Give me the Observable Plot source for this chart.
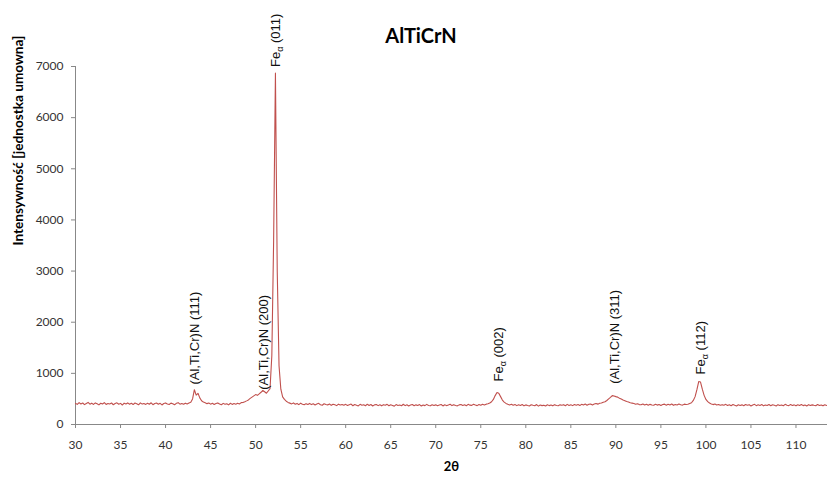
<!DOCTYPE html>
<html><head><meta charset="utf-8">
<script src="https://cdn.jsdelivr.net/npm/d3@7"></script>
<script src="https://cdn.jsdelivr.net/npm/@observablehq/plot@0.6"></script>
<style>
body{margin:0;background:#fff;}
#wrap{position:relative;width:827px;height:477px;overflow:hidden;}
#title{position:absolute;left:0;top:23px;width:842px;text-align:center;font:bold 20px/24px Lato, sans-serif;color:#000;}
</style></head>
<body><div id="wrap"><div id="title">AlTiCrN</div></div>
<script>
// XRD scan: start angle and step (degrees 2θ)
const scanStart = 30.0;
const scanStep = 0.2;
// Intensity, one value per step
const intensity = [
  412, 394, 428, 402, 420, 388, 412, 432, 398, 417,   // 30
  392, 422, 406, 384, 416, 400, 428, 392, 412, 402,   // 32
  420, 386, 409, 424, 395, 413, 381, 417, 400, 422,   // 34
  397, 414, 390, 420, 404, 385, 423, 399, 412, 393,   // 36
  416, 397, 425, 387, 410, 419, 396, 414, 382, 411,   // 38
  422, 400, 392, 418, 406, 386, 414, 427, 398, 412,   // 40
  395, 417, 402, 422, 435, 500, 680, 575, 610, 520,   // 42
  465, 438, 425, 408, 420, 398, 414, 392, 410, 422,   // 44
  400, 386, 413, 395, 407, 384, 416, 393, 411, 398,   // 46
  414, 402, 427, 430, 445, 462, 480, 510, 535, 560,   // 48
  585, 570, 600, 630, 665, 640, 612, 655, 700, 1350,  // 50
  3600, 6870, 3000, 1150, 690, 540, 490, 455, 432, 418, // 52
  403, 422, 395, 412, 389, 417, 398, 385, 408, 392,   // 54
  412, 389, 404, 382, 400, 414, 387, 377, 406, 390,   // 56
  383, 402, 375, 397, 386, 369, 398, 381, 392, 375,   // 58
  394, 372, 387, 400, 367, 390, 377, 363, 394, 375,   // 60
  386, 367, 397, 373, 390, 362, 384, 392, 369, 387,   // 62
  365, 388, 375, 394, 367, 385, 372, 359, 390, 373,   // 64
  382, 367, 396, 369, 387, 363, 380, 392, 368, 384,   // 66
  372, 390, 361, 382, 369, 394, 373, 365, 387, 371,   // 68
  384, 367, 380, 392, 363, 386, 369, 382, 397, 370,   // 70
  388, 371, 365, 384, 392, 373, 386, 367, 394, 378,   // 72
  374, 397, 380, 369, 391, 377, 396, 382, 398, 405,   // 74
  420, 445, 490, 565, 625, 610, 545, 478, 438, 412,   // 76
  396, 382, 394, 375, 390, 369, 386, 373, 392, 365,   // 78
  384, 371, 363, 387, 375, 367, 390, 359, 382, 369,   // 80
  378, 362, 386, 369, 382, 365, 388, 371, 367, 384,   // 82
  375, 388, 367, 394, 373, 386, 369, 392, 377, 390,   // 84
  373, 394, 381, 400, 377, 396, 402, 383, 400, 410,   // 86
  398, 415, 420, 436, 445, 470, 500, 530, 565, 558,   // 88
  545, 535, 515, 498, 478, 465, 448, 440, 425, 418,   // 90
  410, 395, 407, 389, 385, 402, 381, 397, 377, 394,   // 92
  383, 375, 396, 379, 392, 372, 390, 398, 377, 394,   // 94
  381, 400, 375, 392, 382, 402, 385, 379, 398, 390,   // 96
  395, 410, 425, 470, 545, 680, 840, 830, 690, 570,   // 98
  490, 448, 420, 403, 389, 400, 381, 392, 375, 388,   // 100
  377, 394, 371, 387, 367, 390, 375, 363, 386, 372,   // 102
  384, 367, 392, 375, 388, 361, 382, 394, 369, 385,   // 104
  373, 390, 365, 382, 371, 392, 367, 386, 375, 363,   // 106
  388, 371, 382, 367, 394, 375, 369, 390, 373, 384,   // 108
  365, 386, 373, 392, 369, 382, 363, 388, 371, 384,   // 110
  375, 367, 390, 371, 382, 365, 386, 373              // 112
];

// Peak annotations
const labelText = ["(Al,Ti,Cr)N (111)", "(Al,Ti,Cr)N (200)", "Feα (011)", "Feα (002)", "(Al,Ti,Cr)N (311)", "Feα (112)"];
const labelTheta = [43.2, 50.95, 52.25, 76.95, 89.85, 99.4];
const labelIntensity = [780, 680, 6990, 840, 796, 980];

const xTicks = [30, 35, 40, 45, 50, 55, 60, 65, 70, 75, 80, 85, 90, 95, 100, 105, 110];
const yTicks = [0, 1000, 2000, 3000, 4000, 5000, 6000, 7000];
const xTitle = "2θ";
const yTitle = "Intensywność [jednostka umowna]";

const scan = intensity.map((v, i) => ({theta: scanStart + i * scanStep, value: v}));
const labels = labelText.map((t, i) => ({text: t, theta: labelTheta[i], value: labelIntensity[i]}));

const plot = Plot.plot({
  width: 827,
  height: 477,
  marginLeft: 75,
  marginRight: 0,
  marginTop: 66,
  marginBottom: 53,
  x: {domain: [30, 113.5]},
  y: {domain: [0, 7000]},
  style: {fontFamily: "Lato, sans-serif", fontSize: "12px", color: "#333", background: "transparent", overflow: "visible"},
  marks: [
    Plot.axisX({ticks: xTicks, tickFormat: d => String(d), tickSize: 4, tickPadding: 12, stroke: "#888", fill: "#333", label: null, fontSize: 12}),
    Plot.axisY({ticks: yTicks, tickFormat: d => String(d), tickSize: 4, tickPadding: 8, stroke: "#888", fill: "#333", label: null, fontSize: 12}),
    Plot.ruleY([0], {stroke: "#888"}),
    Plot.ruleX([30], {stroke: "#888"}),
    Plot.line(scan, {x: "theta", y: "value", stroke: "#c0504d", strokeWidth: 1.1}),
    Plot.text(labels, {x: "theta", y: "value", text: "text", rotate: -90, textAnchor: "start", fontSize: 13, fill: "#111", fontFamily: "Liberation Sans, Arial, sans-serif"}),
    Plot.text([xTitle], {frameAnchor: "bottom", dy: 46, fontWeight: "bold", fontSize: 13, fill: "#000"}),
    Plot.text([yTitle], {frameAnchor: "left", dx: -57, rotate: -90, fontWeight: "bold", fontSize: 13.6, fill: "#000"})
  ]
});

// subscript alpha in "Feα" labels
const ns = "http://www.w3.org/2000/svg";
plot.querySelectorAll("text").forEach(t => {
  const s = t.textContent;
  if (s.startsWith("Feα")) {
    t.textContent = "Fe";
    const sub = document.createElementNS(ns, "tspan");
    sub.setAttribute("font-size", "9");
    sub.setAttribute("dy", "3");
    sub.textContent = "α";
    const rest = document.createElementNS(ns, "tspan");
    rest.setAttribute("dy", "-3");
    rest.textContent = s.slice(3);
    t.append(sub, rest);
  }
});

plot.style.position = "absolute";
plot.style.left = "0";
plot.style.top = "0";
document.getElementById("wrap").appendChild(plot);
</script>
</body></html>
